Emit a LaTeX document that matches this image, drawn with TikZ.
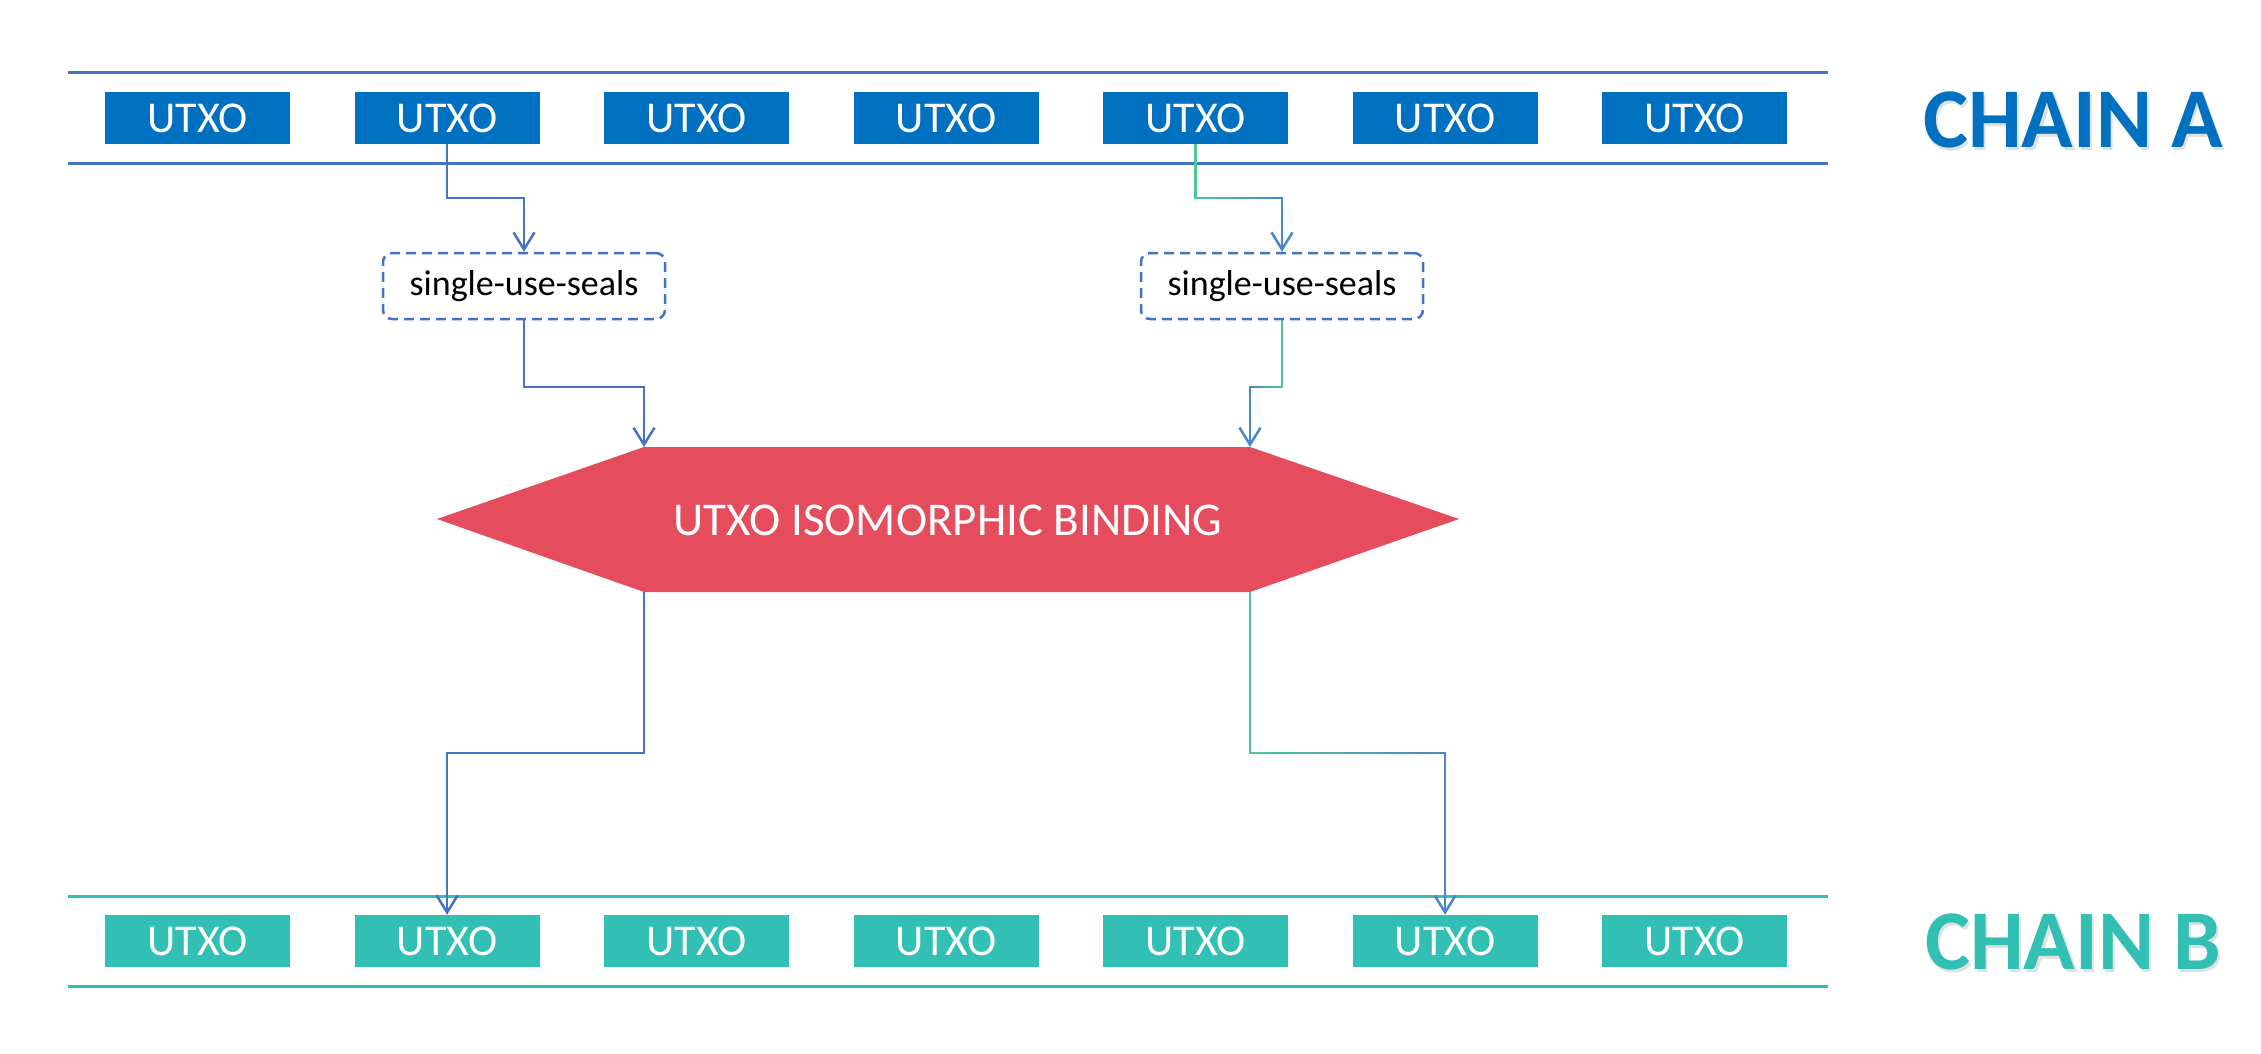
\documentclass[tikz,border=0pt]{standalone}
\usepackage{fontspec}
\setmainfont{Carlito}
\usetikzlibrary{arrows.meta,calc}
\definecolor{chainA}{HTML}{0070C0}
\definecolor{lineA}{HTML}{4472C4}
\definecolor{chainB}{HTML}{33C0B4}
\definecolor{hexred}{HTML}{E54D5F}
\definecolor{cgreen}{HTML}{4FC994}
\definecolor{cblue}{HTML}{4A86C8}
\newcommand\gradseg[2]{%
  \foreach \k in {0,...,11} {
    \pgfmathtruncatemacro\pct{100*(\k+0.5)/12}
    \draw[conn, color=cblue!\pct!cgreen, line cap=rect] ($(#1)!{\k/12}!(#2)$) -- ($(#1)!{(\k+1)/12}!(#2)$);
  }}
\begin{document}
\begin{tikzpicture}[x=1pt,y=-1pt,
  utxoA/.style={fill=chainA, text=white, minimum width=185pt, minimum height=52pt, inner sep=0pt, font=\fontsize{44}{48}\selectfont},
  utxoB/.style={utxoA, fill=chainB},
  chainline/.style={line width=3pt},
  seal/.style={draw=lineA, dash pattern=on 10pt off 6pt, line width=2.5pt, rounded corners=9pt, minimum width=282pt, minimum height=66pt, font=\fontsize{36}{40}\selectfont, inner sep=0pt},
  conn/.style={line width=2.5pt},
  tip/.style={-{Straight Barb[length=17pt,width=21pt]}},
  chainlabel/.style={font=\fontsize{85}{90}\selectfont\bfseries, inner sep=0pt},
]
\useasboundingbox (0,0) rectangle (2261,1054);

% chain lines
\draw[chainline, lineA] (68,73) -- (1828,73);
\draw[chainline, lineA] (68,163) -- (1828,163);
\draw[chainline, chainB] (68,896) -- (1828,896);
\draw[chainline, chainB] (68,986) -- (1828,986);

% UTXO boxes
\foreach \i in {1,...,7} {
  \node[utxoA] (a\i) at ({197.6+249.5*(\i-1)},118) {UTXO};
  \node[utxoB] (b\i) at ({197.6+249.5*(\i-1)},941) {UTXO};
}

% chain labels with soft shadow
\node[chainlabel, text=black!40, opacity=0.3] (chainAsh) at (2075.5,122.5) {CHAIN A};
\node[chainlabel, text=chainA] (chainAlbl) at (2073,120) {CHAIN A};
\node[chainlabel, text=black!40, opacity=0.3] (chainBsh) at (2075.5,944.5) {CHAIN B};
\node[chainlabel, text=chainB] (chainBlbl) at (2073,942) {CHAIN B};

% seals
\node[seal] (s1) at (524,286) {single-use-seals};
\node[seal] (s2) at (1282,286) {single-use-seals};

% hexagon
\coordinate (hl) at (437,519);
\coordinate (htl) at (644,447);
\coordinate (htr) at (1250,447);
\coordinate (hr) at (1459,519);
\coordinate (hbr) at (1250,592);
\coordinate (hbl) at (644,592);
\fill[hexred] (hl) -- (htl) -- (htr) -- (hr) -- (hbr) -- (hbl) -- cycle;
\node[text=white, font=\fontsize{47}{50}\selectfont, inner sep=0pt] (hex) at (948,520) {UTXO ISOMORPHIC BINDING};

% bend levels
\coordinate (m1) at (0,198);
\coordinate (m2) at (0,387);
\coordinate (m3) at (0,753);

% left connectors
\draw[conn, lineA, tip] (a2.south) |- (s1.north |- m1) -- (s1.north);
\draw[conn, lineA, tip] (s1.south) |- (htl |- m2) -- (htl);
\draw[conn, lineA, tip] (hbl) |- (b2.north |- m3) -- (b2.north);

% right connectors (green to blue)
\coordinate (r1a) at (a5.south |- m1);
\coordinate (r1b) at (s2.north |- m1);
\draw[conn, cgreen] (a5.south) -- (r1a);
\gradseg{r1a}{r1b}
\draw[conn, cblue, tip] (r1b) -- (s2.north);

\coordinate (r2a) at (s2.south |- m2);
\coordinate (r2b) at (htr |- m2);
\draw[conn, cgreen] (s2.south) -- (r2a);
\gradseg{r2a}{r2b}
\draw[conn, cblue, tip] (r2b) -- (htr);

\coordinate (r3a) at (hbr |- m3);
\coordinate (r3b) at (b6.north |- m3);
\draw[conn, cgreen] (hbr) -- (r3a);
\gradseg{r3a}{r3b}
\draw[conn, cblue, tip] (r3b) -- (b6.north);
\end{tikzpicture}
\end{document}
